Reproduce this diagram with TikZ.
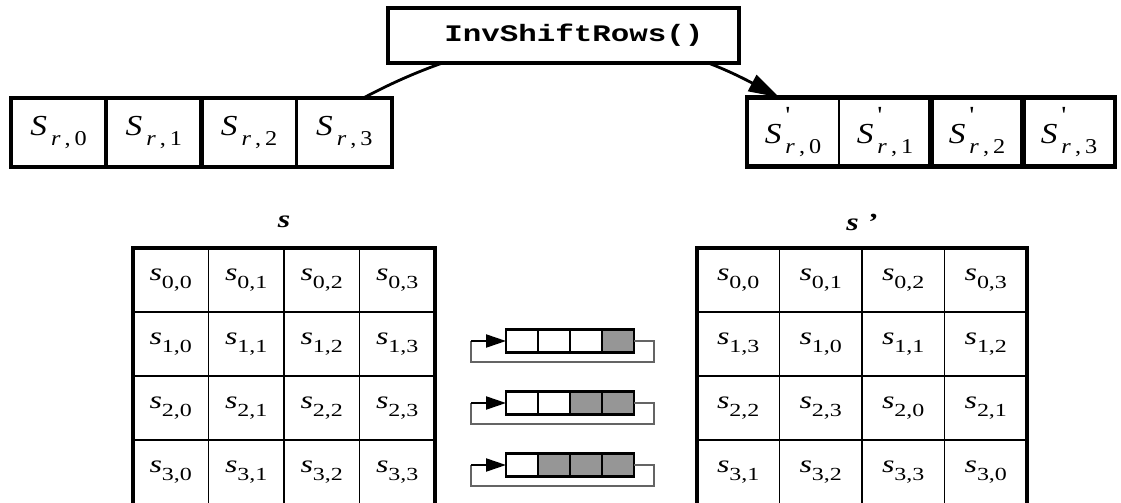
\documentclass[tikz,border=0pt]{standalone}
\usepackage{fontspec}
\setmainfont{Liberation Serif}
\newfontfamily\codefont{Liberation Mono}
\usetikzlibrary{arrows.meta}

\definecolor{shiftgray}{RGB}{150,150,150}
\definecolor{loopgray}{RGB}{100,100,100}

% labels are set a bit wider than the font
\newcommand{\wide}[2][1.15]{\scalebox{#1}[1]{#2}}
% S_{r,c} and S'_{r,c} of one row
\newcommand{\rowS}[1]{\wide{\fontsize{16.5}{17}\selectfont\textit{S}\raisebox{-0.8ex}{\fontsize{12}{12}\selectfont\,\textit{r}\,,\,#1}}}
\newcommand{\rowSp}[1]{\wide{\fontsize{16.5}{17}\selectfont\textit{S}\raisebox{-0.8ex}{\fontsize{12}{12}\selectfont\,\rlap{\raisebox{17.5pt}{\fontsize{14}{14}\selectfont\textquotesingle}}\textit{r}\,,\,#1}}}
% s_{r,c} of the state
\newcommand{\stcell}[2]{\wide[1.3]{\fontsize{14}{14}\selectfont\textit{s}\raisebox{-0.7ex}{\fontsize{10.5}{10.5}\selectfont #1,#2}}}

\begin{document}
\begin{tikzpicture}[x=0.02cm, y=-0.02cm,
  rowcell/.style={inner sep=0pt, outer sep=0pt, minimum height=1.38cm},
  statecell/.style={inner sep=0pt, outer sep=0pt, minimum height=1.28cm},
  shiftcell/.style={draw, line width=1.6pt, inner sep=0pt, outer sep=0pt,
    minimum width=0.64cm, minimum height=0.46cm},
  loopline/.style={draw=loopgray, line width=1.3pt},
  shiftarrow/.style={line width=1.2pt, -{Triangle[length=0.4cm,width=0.26cm]}},
  title/.style={inner sep=0pt}]
  \useasboundingbox (0,0) rectangle (1121,503);

  % one row before and after the shift
  \foreach \c in {0,...,3}
    \node[rowcell, minimum width=1.905cm] (l\c) at ({58.625+95.25*\c},132.5) {\rowS{\c}};
  \draw[line width=2.4pt] (l0.north west) rectangle (l3.south east);
  \draw[line width=2pt] (l0.north east) -- (l0.south east);
  \draw[line width=3.2pt] (l1.north east) -- (l1.south east);
  \draw[line width=1.6pt] (l2.north east) -- (l2.south east);

  \foreach \c in {0,...,3}
    \node[rowcell, minimum width=1.84cm] (r\c) at ({793+92*\c},132) {\rowSp{\c}};
  \draw[line width=2.4pt] (r0.north west) rectangle (r3.south east);
  \draw[line width=1.6pt] (r0.north east) -- (r0.south east);
  \draw[line width=3.2pt] (r1.north east) -- (r1.south east);
  \draw[line width=3.2pt] (r2.north east) -- (r2.south east);

  % arc goes behind the function box
  \draw[line width=1.6pt, -{Triangle[length=0.62cm,width=0.36cm]}]
    ([xshift=0.38cm]l3.north) to[bend left=28] ([xshift=-0.27cm]r0.north);
  \node[draw, line width=2.5pt, fill=white, inner sep=0pt,
    minimum width=7.02cm, minimum height=1.1cm] (isr) at (563.5,35.5)
    {\hspace*{0.42cm}\wide[1.3]{\fontsize{13.5}{14}\selectfont\codefont\bfseries InvShiftRows()}};

  % state titles
  \node[title] (tleft) at (284,222) {\wide[1.3]{\fontsize{14}{14}\selectfont\bfseries\itshape s}};
  \node[title] (tright) at (862,222) {\wide[1.3]{\fontsize{14}{14}\selectfont\bfseries\itshape s\ ’}};

  % state s
  \foreach \r in {0,...,3}
    \foreach \c in {0,...,3}
      \node[statecell, minimum width=1.51cm] (a\r\c) at ({170.75+75.5*\c},{280+64*\r}) {\stcell{\r}{\c}};
  \foreach \c in {0,1,2}
    \draw[line width=0.6pt] (a0\c.north east) -- (a3\c.south east);
  \foreach \r in {0,1,2}
    \draw[line width=0.6pt] (a\r0.south west) -- (a\r3.south east);
  \draw[line width=1.8pt] (a30.south west) -- (a00.north west) -- (a03.north east) -- (a33.south east);

  % state s' after the inverse shift
  \foreach \r in {0,...,3}
    \foreach \c in {0,...,3}{
      \pgfmathtruncatemacro\k{mod(\c-\r+4,4)}
      \node[statecell, minimum width=1.65cm] (b\r\c) at ({738.25+82.5*\c},{280+64*\r}) {\stcell{\r}{\k}};
    }
  \foreach \c in {0,1,2}
    \draw[line width=0.6pt] (b0\c.north east) -- (b3\c.south east);
  \foreach \r in {0,1,2}
    \draw[line width=0.6pt] (b\r0.south west) -- (b\r3.south east);
  \draw[line width=1.8pt] (b30.south west) -- (b00.north west) -- (b03.north east) -- (b33.south east);

  % cyclic shift of rows 1..3
  \foreach \k in {1,2,3}{
    \foreach \j in {0,...,3}{
      \ifnum\j<\numexpr4-\k\relax \def\cellfill{white}\else \def\cellfill{shiftgray}\fi
      \node[shiftcell, fill=\cellfill] (s\k\j) at ({522+32*\j},{279+62*\k}) {};
    }
    \coordinate (in\k) at ([xshift=-0.7cm]s\k0.west);
    \draw[loopline] (s\k3.east) -- ++(20,0) -- ++(0,21) -| (in\k);
    \draw[shiftarrow] (in\k) -- (s\k0.west);
  }
\end{tikzpicture}
\end{document}
